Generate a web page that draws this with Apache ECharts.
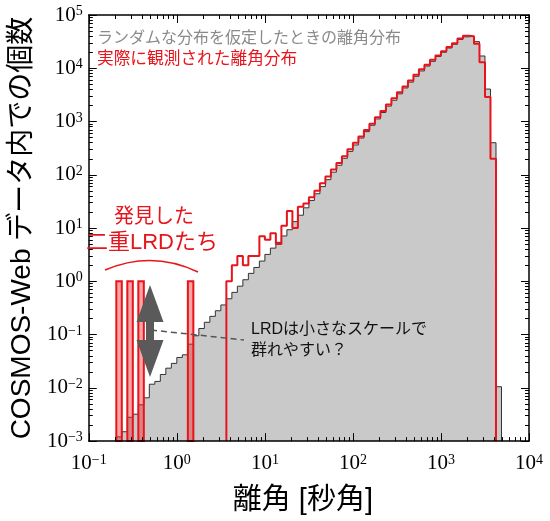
<!DOCTYPE html>
<html>
<head>
<meta charset="utf-8">
<script src="https://cdn.jsdelivr.net/npm/echarts@6/dist/echarts.min.js"></script>
<style>
  html, body { margin: 0; background: #fff; }
  #chart { width: 550px; height: 521px; }
</style>
</head>
<body>
<div id="chart"></div>
<script>
// ビンは log10(離角) で 1/16 dex 刻み、k 番目の左端 = 10^(-1 + k/16)
const binsPerDecade = 16;
const binStartLog = -1;

// ランダム分布を仮定したときの期待個数 (k = 5 .. 74)
const randomFirstBin = 5;
const randomCounts = [
  0.0012, 0.0015, 0.0028, 0.0032, 0.0048, 0.0065, 0.0117, 0.0132, 0.0178, 0.0234,
  0.0288, 0.0372, 0.0417, 0.066, 0.095, 0.13, 0.17, 0.22, 0.28, 0.36,
  0.47, 0.62, 0.81, 1.07, 1.41, 1.82, 2.4, 3.2, 4.2, 5.4,
  7.1, 9.3, 13.2, 17.4, 24, 33, 44, 60, 81, 112,
  151, 204, 275, 363, 490, 646, 851, 1120, 1480, 1950,
  2510, 3310, 4270, 5500, 7080, 8910, 11000, 13500, 16600, 20000,
  24000, 28200, 34700, 38900, 39800, 31600, 17000, 4070, 400, 0.0105
];

// 実際に観測された個数 (k = 25 .. 73)
const observedFirstBin = 25;
const observedCounts = [
  1, 2, 3, 2, 3, 3, 7, 6, 8, 5,
  11, 21, 10, 25, 29, 38, 50, 69, 93, 126,
  166, 224, 302, 398, 525, 692, 912, 1200, 1580, 2090,
  2750, 3550, 4570, 5890, 7590, 9550, 11700, 14500, 17400, 20900,
  25100, 29500, 36300, 40700, 40000, 28800, 12900, 2880, 200
];

// 発見した二重LRD (小さな離角のビン)
const lrdBins = [5, 7, 9, 18];
const lrdCounts = [1, 1, 1, 1];

const xDecades = [0.1, 1, 10, 100, 1000, 10000];
const yDecades = [1e-3, 1e-2, 1e-1, 1, 10, 100, 1000, 1e4, 1e5];

const xMin = 0.1, xMax = 1e4, yMin = 1e-3, yMax = 1e5;

const edge = k => Math.pow(10, binStartLog + k / binsPerDecade);

function minorOf(decades) {
  const out = [];
  decades.slice(0, -1).forEach(d => {
    for (let m = 2; m <= 9; m++) out.push(d * m);
  });
  return out;
}
const xMinor = minorOf(xDecades);
const yMinor = minorOf(yDecades);

// 矩形データ [左端, 右端, 値]
const lrdRects = lrdBins.map((k, i) => [edge(k), edge(k + 1), lrdCounts[i]]);

// ステップ線用の点
function stepPoints(first, counts) {
  const pts = [[edge(first), yMin]];
  counts.forEach((v, i) => pts.push([edge(first + i), v]));
  pts.push([edge(first + counts.length), yMin]);
  return pts;
}

const RED = '#e8141c';
const serif = 'Liberation Serif';
const jp = 'Liberation Sans, Noto Sans CJK JP';

function powLabel(v) {
  const e = Math.round(Math.log10(v));
  return '{b|10}{e|' + (e < 0 ? '\u2212' + (-e) : e) + '}';
}
const powRich = {
  b: { fontFamily: serif, fontSize: 21, lineHeight: 21, color: '#000', verticalAlign: 'bottom' },
  e: { fontFamily: serif, fontSize: 14, lineHeight: 14, color: '#000', verticalAlign: 'top', padding: [0, 0, 15, 0] }
};

function makeAxis(pos, major, extent, opts) {
  const base = {
    type: 'log', logBase: 10, min: extent[0], max: extent[1], position: pos, z: 10,
    axisLine: { show: major, lineStyle: { color: '#000', width: 1.5 } },
    splitLine: { show: false },
    axisTick: { inside: true, length: major ? 8 : 4, lineStyle: { color: '#000', width: 1 } },
    axisLabel: { show: false }
  };
  return Object.assign(base, opts || {});
}

function rectItem(fill, stroke, lw) {
  return function (params, api) {
    const p0 = api.coord([api.value(0), yMin]);
    const p1 = api.coord([api.value(1), api.value(2)]);
    return {
      type: 'rect',
      shape: { x: p0[0], y: p1[1], width: p1[0] - p0[0], height: p0[1] - p1[1] },
      style: { fill: fill, stroke: stroke, lineWidth: lw }
    };
  };
}

const chart = echarts.init(document.getElementById('chart'));
chart.setOption({
  animation: false,
  grid: { left: 84, right: 21, top: 15, bottom: 78 },
  xAxis: [
    makeAxis('bottom', true, [xMin, xMax], {
      axisTick: { inside: true, length: 8, customValues: xDecades, lineStyle: { color: '#000' } },
      axisLabel: { show: true, customValues: xDecades, formatter: powLabel, rich: powRich, margin: 12 },
      name: '離角 [秒角]', nameLocation: 'middle', nameGap: 38,
      nameTextStyle: { fontFamily: jp, fontSize: 29, color: '#000', padding: [0, 12, 0, 0] }
    }),
    makeAxis('bottom', false, [xMin, xMax], {
      axisTick: { inside: true, length: 4, customValues: xMinor, lineStyle: { color: '#000' } }
    }),
    makeAxis('top', true, [xMin, xMax], {
      axisTick: { inside: true, length: 8, customValues: xDecades, lineStyle: { color: '#000' } }
    }),
    makeAxis('top', false, [xMin, xMax], {
      axisTick: { inside: true, length: 4, customValues: xMinor, lineStyle: { color: '#000' } }
    })
  ],
  yAxis: [
    makeAxis('left', true, [yMin, yMax], {
      axisTick: { inside: true, length: 8, customValues: yDecades, lineStyle: { color: '#000' } },
      axisLabel: { show: true, customValues: yDecades, formatter: powLabel, rich: powRich, margin: 6 },
      name: 'COSMOS-Web データ内での個数', nameLocation: 'middle', nameGap: 44, nameRotate: 90,
      nameTextStyle: { fontFamily: jp, fontSize: 28, color: '#000' }
    }),
    makeAxis('left', false, [yMin, yMax], {
      axisTick: { inside: true, length: 4, customValues: yMinor, lineStyle: { color: '#000' } }
    }),
    makeAxis('right', true, [yMin, yMax], {
      axisTick: { inside: true, length: 8, customValues: yDecades, lineStyle: { color: '#000' } }
    }),
    makeAxis('right', false, [yMin, yMax], {
      axisTick: { inside: true, length: 4, customValues: yMinor, lineStyle: { color: '#000' } }
    })
  ],
  series: [
    {
      type: 'line', name: 'random', z: 2, step: 'end', symbol: 'none',
      data: stepPoints(randomFirstBin, randomCounts),
      lineStyle: { color: '#333', width: 1 },
      areaStyle: { color: '#c9c9c9', opacity: 1, origin: 'start' }
    },
    {
      type: 'custom', name: 'lrd', z: 3,
      data: lrdRects, encode: { x: [0, 1], y: 2 },
      renderItem: rectItem('rgba(235,40,40,0.42)', RED, 2)
    },
    {
      type: 'line', name: 'observed', z: 4, step: 'end', symbol: 'none',
      data: stepPoints(observedFirstBin, observedCounts),
      lineStyle: { color: RED, width: 2 }
    }
  ],
  graphic: [
    { type: 'text', z: 20, style: { text: 'ランダムな分布を仮定したときの離角分布', x: 97, y: 39,
      font: '16px ' + jp, fill: '#8a8a8a', textVerticalAlign: 'middle' } },
    { type: 'text', z: 20, style: { text: '実際に観測された離角分布', x: 97, y: 59,
      font: '16.7px ' + jp, fill: RED, textVerticalAlign: 'middle' } },
    { type: 'text', z: 20, style: { text: '発見した', x: 154, y: 217,
      font: '20px ' + jp, fill: RED, textAlign: 'center', textVerticalAlign: 'middle' } },
    { type: 'text', z: 20, style: { text: '二重LRDたち', x: 152, y: 243,
      font: '22px ' + jp, fill: RED, textAlign: 'center', textVerticalAlign: 'middle' } },
    { type: 'bezierCurve', z: 20, shape: { x1: 105, y1: 270, cpx1: 152, cpy1: 250, x2: 198, y2: 272 },
      style: { stroke: RED, lineWidth: 1.5, fill: null } },
    { type: 'polygon', z: 20, shape: { points: [
        [150, 285], [163.5, 322], [154, 322], [154, 340], [163.5, 340],
        [150, 377], [136.5, 340], [146, 340], [146, 322], [136.5, 322]] },
      style: { fill: '#5a5a5a' } },
    { type: 'line', z: 21, shape: { x1: 151, y1: 330, x2: 244, y2: 340 },
      style: { stroke: '#555', lineWidth: 1.5, lineDash: [6, 4] } },
    { type: 'text', z: 20, style: { text: 'LRDは小さなスケールで', x: 251, y: 330,
      font: '16px ' + jp, fill: '#111', textVerticalAlign: 'middle' } },
    { type: 'text', z: 20, style: { text: '群れやすい？', x: 251, y: 351,
      font: '16px ' + jp, fill: '#111', textVerticalAlign: 'middle' } }
  ]
});
</script>
</body>
</html>
